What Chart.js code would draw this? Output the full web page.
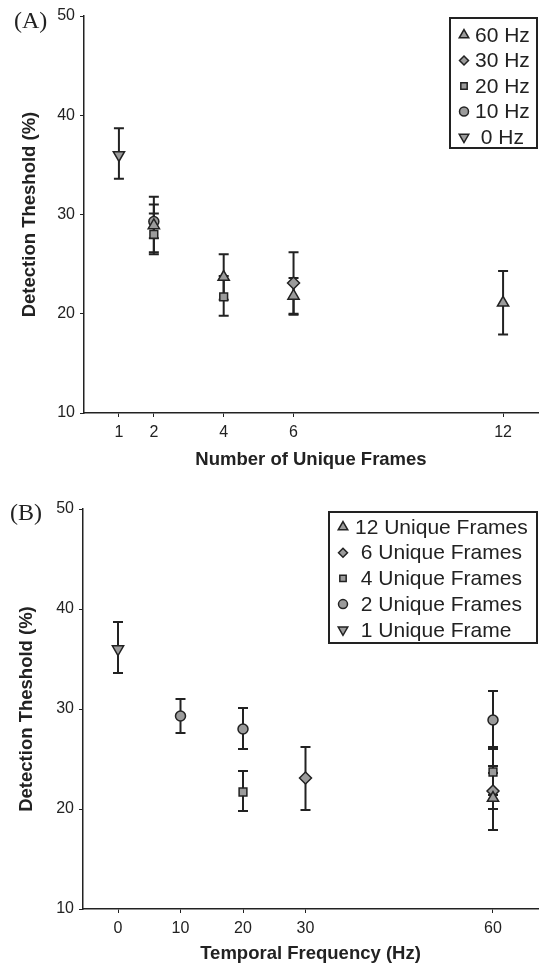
<!DOCTYPE html>
<html>
<head>
<meta charset="utf-8">
<script src="https://cdn.jsdelivr.net/npm/chart.js@4/dist/chart.umd.min.js"></script>
<style>
  body { margin: 0; background: #fff; }
  #wrap { position: relative; width: 539px; height: 966px; }
  canvas { position: absolute; left: 0; }
  .panel { position: absolute; font-family: 'Liberation Serif', 'Times New Roman', serif; font-size: 24px; line-height: 24px; color: #222; }
</style>
</head>
<body>
<div id="wrap">
  <canvas id="chartA" width="539" height="483" style="top:0"></canvas>
  <canvas id="chartB" width="539" height="483" style="top:483px"></canvas>
  <span class="panel" style="left:14px;top:8px">(A)</span>
  <span class="panel" style="left:10px;top:500px">(B)</span>
</div>
<script>
// conditions measured (one entry per point)
const condFrames = [1, 2, 2, 2, 4, 4, 6, 6, 12];
const condHz     = [0, 10, 20, 60, 20, 60, 30, 60, 60];
const condMean   = [36.0, 29.3, 28.0, 28.9, 21.7, 23.7, 23.1, 21.8, 21.1];
const condLow    = [33.6, 27.6, 26.0, 26.2, 19.8, 21.4, 19.9, 20.0, 17.9];
const condHigh   = [38.7, 31.0, 30.1, 31.8, 23.8, 26.0, 26.2, 23.6, 24.3];

// series of panel A (by temporal frequency) and panel B (by unique frames)
const hzSeries = [60, 30, 20, 10, 0];
const hzLabels = ['60 Hz', '30 Hz', '20 Hz', '10 Hz', ' 0 Hz'];
const frameSeries = [12, 6, 4, 2, 1];
const frameLabels = ['12 Unique Frames', ' 6 Unique Frames', ' 4 Unique Frames', ' 2 Unique Frames', ' 1 Unique Frame'];
const seriesStyles = ['triangle', 'rectRot', 'rect', 'circle', 'triangle'];
const seriesRotation = [0, 0, 0, 0, 180];
const seriesRadius = [6.5, 6, 5.5, 5, 6.5];

const xTicksA = [1, 2, 4, 6, 12];
const xTicksB = [0, 10, 20, 30, 60];

const INK = '#222';
const FILL = '#9b9b9b';

Chart.defaults.font.family = "'Liberation Sans', Arial, sans-serif";
Chart.defaults.color = INK;

const errorBars = {
    id: 'errorBars',
    beforeDatasetsDraw(chart, args, opts) {
        const { ctx, scales: { x, y } } = chart;
        ctx.save();
        ctx.strokeStyle = INK;
        ctx.lineWidth = 2;
        chart.data.datasets.forEach(ds => {
            ds.data.forEach(p => {
                const px = x.getPixelForValue(p.x);
                const top = y.getPixelForValue(p.hi);
                const bot = y.getPixelForValue(p.lo);
                ctx.beginPath();
                ctx.moveTo(px, top); ctx.lineTo(px, bot);
                ctx.moveTo(px - opts.cap, top); ctx.lineTo(px + opts.cap, top);
                ctx.moveTo(px - opts.cap, bot); ctx.lineTo(px + opts.cap, bot);
                ctx.stroke();
            });
        });
        ctx.restore();
    }
};

const boxLegend = {
    id: 'boxLegend',
    afterDraw(chart, args, o) {
        const ctx = chart.ctx;
        ctx.save();
        ctx.lineWidth = 2;
        ctx.strokeStyle = INK;
        ctx.strokeRect(o.left, o.top, o.width, o.height);
        ctx.font = o.font;
        ctx.textBaseline = 'middle';
        chart.data.datasets.forEach((ds, i) => {
            const cy = o.firstRow + i * o.rowStep;
            ctx.fillStyle = FILL;
            ctx.strokeStyle = INK;
            ctx.lineWidth = 1.5;
            Chart.helpers.drawPoint(ctx, {
                pointStyle: ds.pointStyle,
                rotation: ds.pointRotation,
                radius: ds.pointStyle === 'triangle' ? 5.5 : 4.5,
                borderWidth: 1.5
            }, o.markerX, cy);
            ctx.fillStyle = INK;
            ctx.fillText(ds.label, o.textX, cy + 1);
        });
        ctx.restore();
    }
};

function buildSeries(keys, labels, keyArr, xArr) {
    return keys.map((k, i) => {
        const data = [];
        keyArr.forEach((v, j) => {
            if (v === k) data.push({ x: xArr[j], y: condMean[j], lo: condLow[j], hi: condHigh[j] });
        });
        return {
            label: labels[i],
            data: data,
            pointStyle: seriesStyles[i],
            pointRotation: seriesRotation[i],
            pointRadius: seriesRadius[i],
            pointBackgroundColor: FILL,
            pointBorderColor: INK,
            pointBorderWidth: 1.5,
            showLine: false
        };
    });
}

// drop the label overflow padding chart.js adds, so the plot area sits where we put it
function noPad(s) {
    s.paddingLeft = 0; s.paddingRight = 0; s.paddingTop = 0; s.paddingBottom = 0;
}

function makeChart(id, datasets, xTicks, xMin, xMax, xTitle, lay, legend) {
    const ctx = document.getElementById(id).getContext('2d');
    return new Chart(ctx, {
        type: 'scatter',
        data: { datasets: datasets },
        options: {
            responsive: false,
            animation: false,
            layout: { autoPadding: false, padding: { top: lay.top, right: 1, left: 0, bottom: 0 } },
            plugins: {
                legend: { display: false },
                tooltip: { enabled: false },
                errorBars: { cap: 5 },
                boxLegend: legend
            },
            scales: {
                x: {
                    type: 'linear',
                    min: xMin,
                    max: xMax,
                    afterBuildTicks: s => { s.ticks = xTicks.map(v => ({ value: v })); },
                    afterFit: s => { s.height = lay.xHeight; noPad(s); },
                    grid: { display: true, drawOnChartArea: false, drawTicks: true, tickLength: 4, color: INK, lineWidth: 1 },
                    border: { display: true, color: INK, width: 1.5 },
                    ticks: { font: { size: 16 }, padding: 6, maxRotation: 0, autoSkip: false },
                    title: { display: true, text: xTitle, font: { size: 18.5, weight: 'bold' }, padding: { top: 0, bottom: lay.xTitlePad } }
                },
                y: {
                    min: 10,
                    max: 50,
                    afterFit: s => { s.width = lay.yWidth; noPad(s); },
                    grid: { display: true, drawOnChartArea: false, drawTicks: true, tickLength: 4, color: INK, lineWidth: 1 },
                    border: { display: true, color: INK, width: 1.5 },
                    ticks: { stepSize: 10, font: { size: 16 }, padding: 5 },
                    title: { display: true, text: 'Detection Theshold (%)', font: { size: 18.5, weight: 'bold' }, padding: { top: lay.yTitlePad, bottom: 0 } }
                }
            }
        },
        plugins: [errorBars, boxLegend]
    });
}

makeChart('chartA', buildSeries(hzSeries, hzLabels, condHz, condFrames), xTicksA, 0, 13,
    'Number of Unique Frames',
    { top: 16, xHeight: 70, yWidth: 84, xTitlePad: 12, yTitlePad: 19 },
    { left: 450, top: 18, width: 87, height: 130, firstRow: 35, rowStep: 25.5, markerX: 464, textX: 475, font: "21px 'Liberation Sans', Arial, sans-serif" });

makeChart('chartB', buildSeries(frameSeries, frameLabels, condFrames, condHz), xTicksB, -5.6, 67.2,
    'Temporal Frequency (Hz)',
    { top: 26, xHeight: 57, yWidth: 83, xTitlePad: 1, yTitlePad: 16 },
    { left: 329, top: 29, width: 208, height: 131, firstRow: 44, rowStep: 25.7, markerX: 343, textX: 355, font: "21px 'Liberation Sans', Arial, sans-serif" });
</script>
</body>
</html>
